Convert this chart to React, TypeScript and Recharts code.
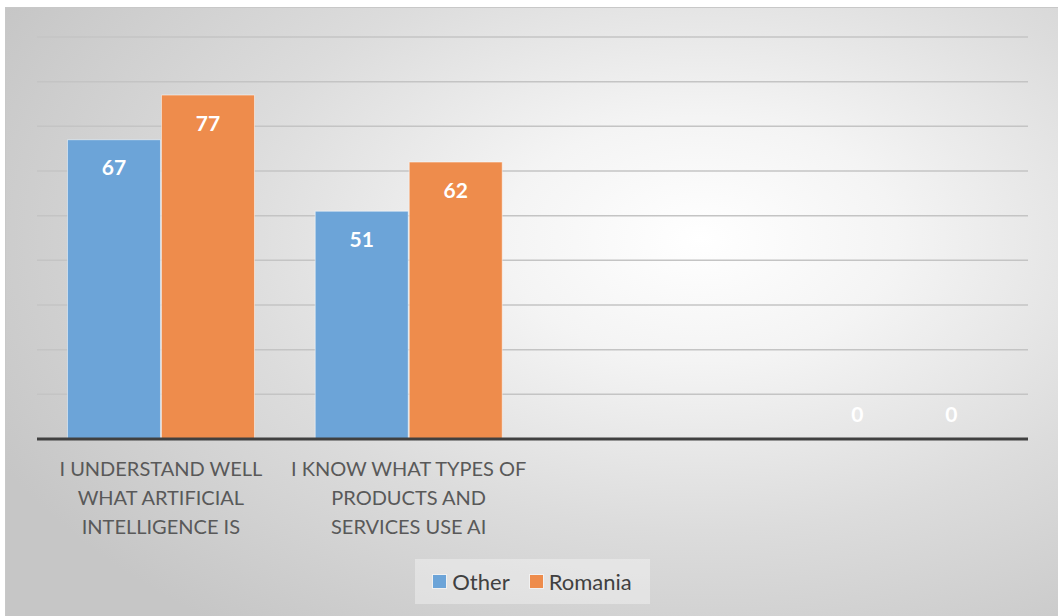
import React from "react";
import { BarChart, Bar, XAxis, YAxis, CartesianGrid, LabelList } from "recharts";

const categoryLines: string[][] = [
  ["I UNDERSTAND WELL", "WHAT ARTIFICIAL", "INTELLIGENCE IS"],
  ["I KNOW WHAT TYPES OF", "PRODUCTS AND", "SERVICES USE AI"],
  [],
  [],
];
const otherValues: (number | null)[] = [67, 51, null, 0];
const romaniaValues: (number | null)[] = [77, 62, null, 0];
const yTicks = [0, 10, 20, 30, 40, 50, 60, 70, 80, 90];
const seriesNames = ["Other", "Romania"];
const seriesColors = ["#6CA4D8", "#EE8C4C"];

const data = categoryLines.map((lines, i) => ({
  key: "c" + i,
  lines,
  other: otherValues[i],
  romania: romaniaValues[i],
}));

const FONT = "Lato, 'Open Sans', sans-serif";

const CategoryTick = (props: any) => {
  const { x, y, index } = props;
  const lines = categoryLines[index] || [];
  return (
    <text x={x} y={y} textAnchor="middle" fill="#595959" fontFamily={FONT} fontSize={20}>
      {lines.map((l, i) => (
        <tspan key={i} x={x} y={y + 29 + i * 29}>
          {l}
        </tspan>
      ))}
    </text>
  );
};

const ValueLabel = (props: any) => {
  const { x, y, width, value } = props;
  if (value === null || value === undefined) return null;
  const cy = Number(value) === 0 ? y - 25 : y + 27;
  return (
    <text
      x={x + width / 2}
      y={cy}
      textAnchor="middle"
      dominantBaseline="central"
      fill="#ffffff"
      fontFamily={FONT}
      fontWeight={700}
      fontSize={21}
    >
      {value}
    </text>
  );
};

export default function App() {
  return (
    <div style={{ position: "absolute", left: 0, top: 0, width: 1058, height: 616, background: "#ffffff" }}>
      <div
        style={{
          position: "absolute",
          left: 5,
          top: 7,
          width: 1053,
          height: 609,
          borderTop: "1px solid #c8c8c8",
          borderLeft: "1px solid #c8c8c8",
          boxSizing: "border-box",
          background:
            "radial-gradient(ellipse 75% 80% at 66% 38%, #ffffff 0%, #f4f4f4 25%, #dcdcdc 60%, #c6c6c6 100%)",
        }}
      />
      <div style={{ position: "absolute", left: 0, top: 0 }}>
        <BarChart
          width={1058}
          height={616}
          data={data}
          margin={{ top: 37, left: 37, right: 30, bottom: 147 }}
          barCategoryGap="12.3%"
          barGap={1}
        >
          <CartesianGrid vertical={false} stroke="#c4c4c4" strokeWidth={1.5} />
          <YAxis hide domain={[0, 90]} ticks={yTicks} />
          <XAxis
            dataKey="key"
            tick={<CategoryTick />}
            tickLine={false}
            axisLine={{ stroke: "#404040", strokeWidth: 3 }}
            interval={0}
          />
          <Bar dataKey="other" name={seriesNames[0]} fill={seriesColors[0]} stroke="rgba(255,255,255,0.5)" strokeWidth={1} minPointSize={0.01} isAnimationActive={false}>
            <LabelList dataKey="other" content={<ValueLabel />} />
          </Bar>
          <Bar dataKey="romania" name={seriesNames[1]} fill={seriesColors[1]} stroke="rgba(255,255,255,0.5)" strokeWidth={1} minPointSize={0.01} isAnimationActive={false}>
            <LabelList dataKey="romania" content={<ValueLabel />} />
          </Bar>
        </BarChart>
      </div>
      <div
        style={{
          position: "absolute",
          left: 415,
          top: 559,
          width: 235,
          height: 45,
          background: "rgba(255,255,255,0.35)",
          display: "flex",
          alignItems: "center",
          justifyContent: "center",
          gap: 20,
          fontFamily: FONT,
          fontSize: 22,
          color: "#404040",
        }}
      >
        {seriesNames.map((n, i) => (
          <div key={n} style={{ display: "flex", alignItems: "center" }}>
            <span
              style={{
                display: "inline-block",
                width: 13,
                height: 13,
                background: seriesColors[i],
                marginRight: 6,
                outline: "1px solid rgba(255,255,255,0.5)",
              }}
            />
            <span>{n}</span>
          </div>
        ))}
      </div>
    </div>
  );
}
